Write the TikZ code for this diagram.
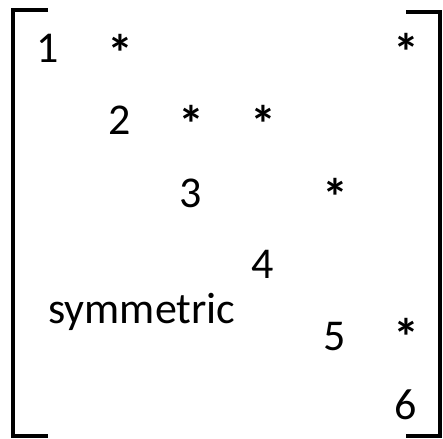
\documentclass[tikz,border=0pt]{standalone}
\usepackage{fontspec}
\setmainfont{Carlito}
\newcommand{\entryfont}{\fontsize{44}{48}\selectfont}
\newcommand{\starfont}{\fontsize{52}{56}\selectfont\bfseries}
\begin{document}
\begin{tikzpicture}[x=1pt,y=-1pt,every node/.style={font=\entryfont, inner sep=0pt, anchor=base}]
\tikzset{bracket/.style={line width=4pt, line join=miter},
  star/.style={font=\starfont, anchor=north}}
\useasboundingbox (0,0) rectangle (443,438);
% Diagonal: {name, x, baseline}
\foreach \nm/\x/\y [count=\i] in {d1/48/63, d2/120/135, d3/191/207, d4/263/278, d5/335/350, d6/406/419} {
  \node (\nm) at (\x,\y) {\i};
}
% Nonzeros above the diagonal (ink top)
\foreach \nm/\x/\y in {s12/120/34, s16/406/33, s23/191/105, s24/263/105, s35/335/178, s56/406/318} {
  \node[star] (\nm) at (\x,\y) {*};
}
\node (sym) at (142,323) {symmetric};
% Brackets
\draw[bracket] (48,10.5) -- (13,10.5) -- (13,436) -- (48,436);
\draw[bracket] (406,12) -- (440,12) -- (440,436) -- (406,436);
\end{tikzpicture}
\end{document}
